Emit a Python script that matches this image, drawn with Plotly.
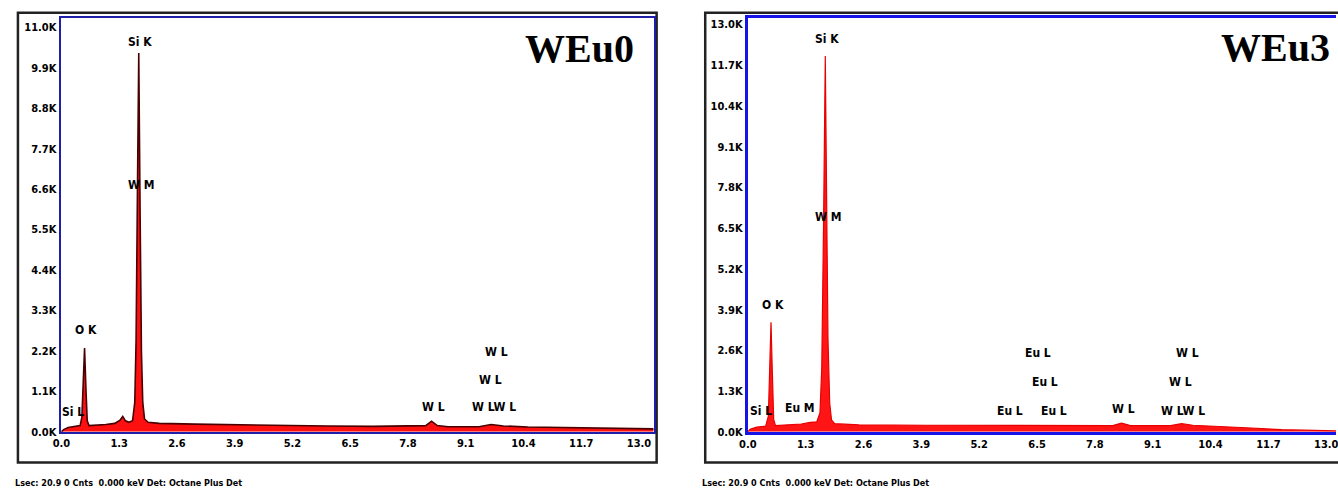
import plotly.graph_objects as go

# ---- EDS spectra (energy in keV, intensity in counts) ----
weu0_energy = [0.00, 0.05, 0.15, 0.30, 0.42, 0.46, 0.49, 0.52, 0.55, 0.58, 0.62, 0.80, 1.00,
               1.20, 1.32, 1.38, 1.44, 1.52, 1.60, 1.65, 1.68, 1.71, 1.74, 1.77, 1.80, 1.83,
               1.87, 1.95, 2.20, 3.00, 4.00, 5.00, 6.00, 7.00, 8.00, 8.20, 8.33, 8.46, 8.70,
               9.40, 9.67, 9.95, 10.50, 11.50, 12.50, 13.33]
weu0_counts = [0, 60, 120, 150, 170, 400, 1400, 2280, 1200, 300, 170, 180, 200,
               230, 320, 420, 300, 260, 300, 800, 2500, 6500, 10300, 6000, 2200, 800,
               350, 260, 230, 210, 190, 170, 160, 150, 150, 170, 290, 170, 140,
               140, 200, 160, 130, 110, 90, 80]

weu3_energy = [0.00, 0.05, 0.20, 0.40, 0.46, 0.49, 0.52, 0.55, 0.58, 0.62, 0.90, 1.20,
               1.40, 1.55, 1.62, 1.66, 1.70, 1.74, 1.77, 1.80, 1.84, 1.88, 1.95, 2.50,
               4.00, 5.50, 6.50, 7.50, 8.20, 8.40, 8.60, 9.50, 9.75, 10.00, 10.60, 11.20,
               12.00, 12.80, 13.22]
weu3_counts = [0, 80, 150, 180, 500, 2000, 3500, 1900, 400, 200, 220, 250,
               300, 320, 600, 2000, 6500, 12000, 7500, 3000, 900, 380, 260, 220,
               210, 200, 200, 190, 200, 280, 200, 200, 260, 210, 180, 130,
               70, 40, 30]

# ---- axis ticks ----
energy_ticks = [0.0, 1.3, 2.6, 3.9, 5.2, 6.5, 7.8, 9.1, 10.4, 11.7, 13.0]
energy_tick_text = ["0.0", "1.3", "2.6", "3.9", "5.2", "6.5", "7.8", "9.1", "10.4", "11.7", "13.0"]
weu0_count_ticks = [0, 1100, 2200, 3300, 4400, 5500, 6600, 7700, 8800, 9900, 11000]
weu0_count_text = ["0.0K", "1.1K", "2.2K", "3.3K", "4.4K", "5.5K", "6.6K", "7.7K", "8.8K", "9.9K", "11.0K"]
weu3_count_ticks = [0, 1300, 2600, 3900, 5200, 6500, 7800, 9100, 10400, 11700, 13000]
weu3_count_text = ["0.0K", "1.3K", "2.6K", "3.9K", "5.2K", "6.5K", "7.8K", "9.1K", "10.4K", "11.7K", "13.0K"]

# ---- peak identification labels (text, energy, counts) ----
weu0_peaks = [
    ("Si K", 1.76, 10600), ("W M", 1.78, 6720), ("O K", 0.55, 2760), ("Si L", 0.27, 540),
    ("W L", 8.38, 680), ("W LW L", 9.73, 680), ("W L", 9.65, 1410), ("W L", 9.80, 2170),
]
weu3_peaks = [
    ("Si K", 1.78, 12550), ("W M", 1.81, 6860), ("O K", 0.56, 4060), ("Si L", 0.29, 660),
    ("Eu M", 1.18, 750), ("Eu L", 5.89, 660), ("Eu L", 6.53, 2520), ("Eu L", 6.67, 1600),
    ("Eu L", 6.89, 660), ("W L", 8.45, 720), ("W LW L", 9.79, 660), ("W L", 9.72, 1600),
    ("W L", 9.88, 2520),
]

status_line = "Lsec: 20.9 0 Cnts  0.000 keV Det: Octane Plus Det"

W, H = 1338, 498
NARROW = "DejaVu Sans Condensed, Liberation Sans Narrow, Arial Narrow, sans-serif"
SERIF = "Liberation Serif, Times New Roman, serif"


def px(x):
    return x / W


def py(y):
    return 1 - y / H


fig = go.Figure()

fig.add_trace(go.Scatter(
    x=weu0_energy, y=weu0_counts, mode="lines", fill="tozeroy",
    fillcolor="#ff1010", line=dict(color="#4a0000", width=1.6),
    xaxis="x", yaxis="y", showlegend=False, hoverinfo="skip",
))
fig.add_trace(go.Scatter(
    x=weu3_energy, y=weu3_counts, mode="lines", fill="tozeroy",
    fillcolor="#ff1515", line=dict(color="#e80000", width=1.2),
    xaxis="x2", yaxis="y2", showlegend=False, hoverinfo="skip",
))

tick_font = dict(family=NARROW, size=11, color="black", weight="bold")

common_x = dict(
    tickvals=energy_ticks, ticktext=energy_tick_text, ticks="", showgrid=False,
    zeroline=False, showline=True, mirror=True, tickfont=tick_font, fixedrange=True,
    ticklabeloverflow="allow",
)
common_y = dict(ticks="", showgrid=False, zeroline=False, showline=True,
                tickfont=tick_font, fixedrange=True, ticklabelstandoff=0)

fig.update_layout(
    width=W, height=H,
    margin=dict(l=0, r=0, t=0, b=0),
    paper_bgcolor="white", plot_bgcolor="white",
    xaxis=dict(domain=[px(52), px(650)], range=[-0.02, 13.33], anchor="y",
               linecolor="#1e1ea8", linewidth=2, **common_x),
    yaxis=dict(domain=[py(438), py(18)], range=[0, 11260], anchor="x",
               tickvals=weu0_count_ticks, ticktext=weu0_count_text,
               linecolor="#1e1ea8", linewidth=2, mirror=True, **common_y),
    xaxis2=dict(domain=[px(745), 1.0], range=[0, 13.22], anchor="y2",
                linecolor="#1414e6", linewidth=3, **common_x),
    yaxis2=dict(domain=[py(438), py(18)], range=[0, 13220], anchor="x2",
                tickvals=weu3_count_ticks, ticktext=weu3_count_text,
                linecolor="#1414e6", linewidth=3, mirror=False, **common_y),
)

# outer instrument frames
fig.add_shape(type="rect", xref="paper", yref="paper",
              x0=px(9), x1=px(653), y0=py(469), y1=py(13),
              line=dict(color="#222222", width=2.5), fillcolor="rgba(0,0,0,0)", layer="below")
fig.add_shape(type="rect", xref="paper", yref="paper",
              x0=px(702), x1=px(1360), y0=py(469), y1=py(13),
              line=dict(color="#222222", width=2.5), fillcolor="rgba(0,0,0,0)", layer="below")

label_font = dict(family=NARROW, size=12, color="black", weight="bold")
for text, e, c in weu0_peaks:
    fig.add_annotation(x=e, y=c, xref="x", yref="y", text=text, showarrow=False, font=label_font)
for text, e, c in weu3_peaks:
    fig.add_annotation(x=e, y=c, xref="x2", yref="y2", text=text, showarrow=False, font=label_font)

# sample names
title_font = dict(family=SERIF, size=40, color="black", weight="bold")
fig.add_annotation(x=px(632), y=py(49), xref="paper", yref="paper", text="WEu0",
                   showarrow=False, xanchor="right", yanchor="middle", font=title_font)
fig.add_annotation(x=px(1334), y=py(48), xref="paper", yref="paper", text="WEu3",
                   showarrow=False, xanchor="right", yanchor="middle", font=title_font)

# acquisition status lines
status_font = dict(family=NARROW, size=9, color="black", weight="bold")
fig.add_annotation(x=px(4), y=py(490), xref="paper", yref="paper", text=status_line,
                   showarrow=False, xanchor="left", yanchor="middle", font=status_font)
fig.add_annotation(x=px(697), y=py(490), xref="paper", yref="paper", text=status_line,
                   showarrow=False, xanchor="left", yanchor="middle", font=status_font)

fig.write_html("out.html", config={"displayModeBar": False})
